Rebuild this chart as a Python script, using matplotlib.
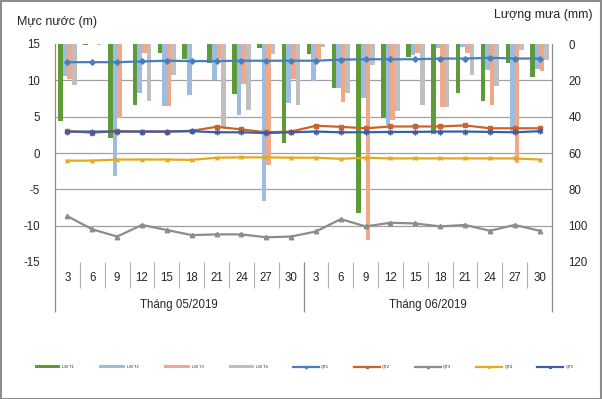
import numpy as np
import matplotlib
matplotlib.use("Agg")
import matplotlib.pyplot as plt
from matplotlib.patches import Rectangle

plt.rcParams['font.family'] = ['Liberation Sans', 'DejaVu Sans']
plt.rcParams['axes.unicode_minus'] = False

# data (x = day of month, two months)
days = [3, 6, 9, 12, 15, 18, 21, 24, 27, 30] * 2
months = ["Tháng 05/2019", "Tháng 06/2019"]

# rainfall, mm (right axis, bars hanging from the top)
rain_labels = ["LM T1", "LM T2", "LM T3", "LM T4"]
rain_1 = [42.5, 0.4, 51.5, 33.8, 4.8, 8.5, 10.7, 27.5, 2.0, 54.7,
          5.4, 24.2, 92.8, 40.6, 7.0, 49.7, 27.0, 31.5, 10.7, 18.1]
rain_2 = [17.6, 0.0, 72.5, 27.0, 34.4, 27.9, 20.0, 39.3, 86.5, 32.5,
          20.4, 24.2, 29.8, 44.5, 5.9, 2.4, 1.5, 14.4, 48.0, 13.9]
rain_3 = [19.3, 0.0, 40.8, 5.0, 34.4, 0.0, 8.2, 22.0, 66.5, 19.2,
          8.0, 32.0, 107.8, 42.0, 4.7, 34.7, 4.7, 33.4, 65.5, 14.8]
rain_4 = [22.5, 0.4, 0.0, 31.5, 17.0, 0.0, 45.8, 36.5, 5.4, 33.8,
          1.5, 27.0, 11.8, 36.9, 33.6, 34.7, 16.8, 23.0, 3.3, 8.9]

# water level, m (left axis, lines)
level_labels = ["QT1", "QT2", "QT3", "QT4", "QT5"]
level_1 = [12.5, 12.5, 12.5, 12.6, 12.7, 12.65, 12.65, 12.7, 12.7, 12.7,
           12.7, 12.85, 12.9, 12.9, 12.9, 13.0, 13.0, 13.1, 13.0, 13.0]
level_2 = [3.0, 2.8, 3.0, 2.95, 2.95, 3.05, 3.6, 3.25, 2.85, 2.95,
           3.75, 3.6, 3.4, 3.65, 3.65, 3.65, 3.8, 3.4, 3.4, 3.4]
level_3 = [-8.7, -10.5, -11.5, -9.9, -10.6, -11.3, -11.2, -11.2, -11.6, -11.5,
           -10.8, -9.1, -10.1, -9.6, -9.7, -10.1, -9.9, -10.7, -9.9, -10.7]
level_4 = [-1.05, -1.05, -0.9, -0.9, -0.9, -0.95, -0.65, -0.6, -0.6, -0.65,
           -0.65, -0.8, -0.65, -0.75, -0.75, -0.75, -0.75, -0.75, -0.75, -0.9]
level_5 = [2.95, 2.95, 2.95, 2.95, 2.95, 3.0, 2.85, 2.85, 2.75, 2.85,
           2.95, 2.85, 2.85, 2.9, 2.9, 2.95, 2.95, 2.9, 2.85, 3.0]

bar_colors = ["#5e9a38", "#9dbde0", "#f0a888", "#bfbfbf"]
line_styles = [("#4a7ebb", "D", 2.8), ("#c8642d", "s", 3.2), ("#8c8c8c", "^", 3.2),
               ("#e2aa1c", "x", 3.2), ("#3a5fa6", (6, 2, 0), 4.0)]
txt = "#262626"
fs = 8.3

fig = plt.figure(figsize=(6.02, 3.99), dpi=100)
ax = fig.add_axes([55 / 602, 1 - 262 / 399, (552 - 55) / 602, 218 / 399])
ax2 = ax.twinx()
ax.set_zorder(ax2.get_zorder() + 1)
ax.patch.set_visible(False)

x = np.arange(len(days))
w = 0.185
rains = [rain_1, rain_2, rain_3, rain_4]
bar_handles = []
for i, (vals, col) in enumerate(zip(rains, bar_colors)):
    b = ax2.bar(x + (i - 1.5) * w, vals, width=w, color=col, label=rain_labels[i], zorder=2)
    bar_handles.append(b)

levels = [level_1, level_2, level_3, level_4, level_5]
line_handles = []
for vals, lab, (col, mk, ms) in zip(levels, level_labels, line_styles):
    ln, = ax.plot(x, vals, color=col, lw=1.6, marker=mk, ms=ms, mew=1.0,
                  mfc=col, mec=col, label=lab, zorder=3)
    line_handles.append(ln)

ax.set_xlim(-0.5, len(days) - 0.5)
ax.set_ylim(-15, 15)
ax.set_yticks([-15, -10, -5, 0, 5, 10, 15])
ax2.set_ylim(120, 0)
ax2.set_yticks([0, 20, 40, 60, 80, 100, 120])

# gridlines behind the bars, none at the ends
ax2.set_axisbelow(True)
ax2.yaxis.grid(True, color="#a0a0a0", lw=0.9)
for gl, t in zip(ax2.get_ygridlines(), ax2.get_yticks()):
    if t in (0, 120):
        gl.set_visible(False)

for a in (ax, ax2):
    a.set_xticks([])
    a.tick_params(axis="y", length=0, labelsize=fs, labelcolor=txt)
    for s in ("top", "bottom"):
        a.spines[s].set_visible(False)
    a.spines["left"].set_color("#8c8c8c")
    a.spines["right"].set_color("#8c8c8c")
ax.tick_params(axis="y", pad=11)
ax2.tick_params(axis="y", pad=12)

# multi-level category axis
tr = ax.get_xaxis_transform()
for xi, d in zip(x, days):
    ax.text(xi, -0.073, str(d), transform=tr, ha="center", va="center",
            fontsize=fs, color=txt)
inner = [k - 0.5 for k in range(1, len(days)) if k != 10]
ax.vlines(inner, -0.119, 0, transform=tr, colors="#b0b0b0", lw=0.8, clip_on=False)
ax.vlines([-0.5, 9.5, len(days) - 0.5], -0.229, 0, transform=tr,
          colors="#8c8c8c", lw=0.9, clip_on=False)
for m, mo in enumerate(months):
    ax.text(4.5 + 10 * m, -0.197, mo, transform=tr, ha="center", va="center",
            fontsize=fs, color=txt)

fig.text(17 / 602, 1 - 22 / 399, "Mực nước (m)", fontsize=9, color=txt, va="center")
fig.text(593 / 602, 1 - 15 / 399, "Lượng mưa (mm)", fontsize=9, color=txt,
         va="center", ha="right")

fig.legend(bar_handles + line_handles, rain_labels + level_labels,
           loc="center", bbox_to_anchor=(0.505, 1 - 367 / 399), ncol=9, fontsize=3,
           frameon=False, handlelength=6.2, handleheight=0.7, handletextpad=0.5,
           columnspacing=6.0, markerscale=0.5, labelcolor=txt)

fig.add_artist(Rectangle((0.001, 0.001), 0.997, 0.996, transform=fig.transFigure,
                         fill=False, edgecolor="#8c8c8c", lw=1.5))

fig.savefig("out.png", dpi=100)
